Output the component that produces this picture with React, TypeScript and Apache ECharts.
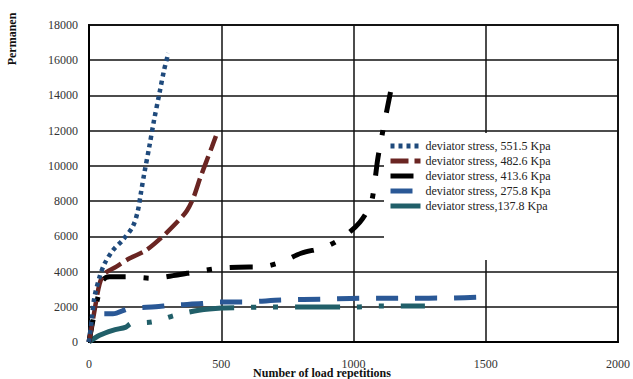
import React, { useEffect, useRef } from "react";
import * as echarts from "echarts";

const seriesNames = [
  "deviator stress, 551.5 Kpa",
  "deviator stress, 482.6 Kpa",
  "deviator stress, 413.6 Kpa",
  "deviator stress, 275.8 Kpa",
  "deviator stress,137.8 Kpa",
];

const x551 = [0, 10, 20, 40, 59, 90, 127, 165, 184, 196, 209, 228, 246, 266, 284, 300];
const y551 = [0, 1200, 2500, 3700, 4450, 5200, 5780, 6540, 7400, 8440, 9575, 11090, 12600, 14100, 15450, 16400];

const x482 = [0, 21, 40, 59, 102, 152, 215, 277, 340, 370, 395, 420, 445, 465, 480];
const y482 = [0, 1800, 3300, 3890, 4270, 4740, 5200, 5970, 6920, 7450, 8200, 9300, 10300, 11090, 11700];

const x413 = [0, 15, 34, 52, 77, 152, 240, 327, 402, 484, 566, 652, 727, 802, 892, 960, 1024, 1066, 1080, 1091, 1102, 1121, 1140];
const y413 = [0, 1230, 2560, 3500, 3700, 3700, 3620, 3790, 3980, 4170, 4250, 4270, 4540, 5040, 5390, 5950, 6800, 7880, 9070, 10320, 11280, 12760, 14200];

const x275 = [0, 9, 21, 90, 152, 252, 315, 427, 490, 578, 727, 892, 1042, 1204, 1365, 1490];
const y275 = [0, 850, 1600, 1600, 1900, 2000, 2090, 2180, 2270, 2270, 2380, 2440, 2490, 2490, 2500, 2550];

const x137 = [0, 40, 90, 140, 159, 240, 327, 415, 502, 578, 652, 829, 1005, 1084, 1174, 1270];
const y137 = [0, 380, 660, 850, 1040, 1140, 1520, 1800, 1930, 1950, 1985, 1985, 1990, 2040, 2040, 2050];

const xTicks = [0, 500, 1000, 1500, 2000];
const yTicks = [0, 2000, 4000, 6000, 8000, 10000, 12000, 14000, 16000, 18000];

const colors = ["#1F4A7C", "#6A2522", "#000000", "#2A5896", "#215F69"];
const dashes: number[][] = [
  [4, 4],
  [18, 6],
  [23, 18, 5, 18],
  [22, 17],
  [45, 17, 5, 17, 5, 17],
];
const widths = [4.5, 4.5, 5, 5, 5];

const pairs = (xs: number[], ys: number[]) => xs.map((x, i) => [x, ys[i]]);
const allData = [
  pairs(x551, y551),
  pairs(x482, y482),
  pairs(x413, y413),
  pairs(x275, y275),
  pairs(x137, y137),
];

const FONT = "'Liberation Serif', 'Times New Roman', 'DejaVu Serif', serif";

export default function App() {
  const ref = useRef<HTMLDivElement>(null);
  useEffect(() => {
    if (!ref.current) return;
    const chart = echarts.init(ref.current, null, { renderer: "svg" });
    chart.setOption({
      animation: false,
      backgroundColor: "#ffffff",
      textStyle: { fontFamily: FONT },
      grid: {
        left: 89,
        right: 13,
        top: 25,
        bottom: 37,
        show: true,
        borderColor: "#222",
        borderWidth: 2,
      },
      xAxis: {
        type: "value",
        min: 0,
        max: 2000,
        interval: 500,
        axisLine: { show: true, lineStyle: { color: "#000", width: 2 } },
        axisTick: { show: false },
        splitLine: { show: true, lineStyle: { color: "#111", width: 1.5 } },
        axisLabel: {
          fontFamily: FONT,
          fontSize: 12,
          color: "#333",
          margin: 16,
          showMaxLabel: true,
          formatter: (v: number) => (xTicks.includes(v) ? String(v) : ""),
        },
      },
      yAxis: {
        type: "value",
        min: 0,
        max: 18000,
        interval: 2000,
        axisLine: { show: true, lineStyle: { color: "#000", width: 2 } },
        axisTick: { show: false },
        splitLine: { show: true, lineStyle: { color: "#111", width: 1.5 } },
        axisLabel: {
          fontFamily: FONT,
          fontSize: 12,
          color: "#333",
          margin: 11,
          formatter: (v: number) => (yTicks.includes(v) ? String(v) : ""),
        },
      },
      legend: {
        orient: "vertical",
        left: 383,
        top: 134,
        itemWidth: 30,
        itemHeight: 6,
        itemGap: 1,
        data: seriesNames,
        itemStyle: { opacity: 0 },
        lineStyle: { width: 5 },
        textStyle: {
          fontFamily: FONT,
          fontSize: 12,
          color: "#222",
          lineHeight: 14,
        },
      },
      graphic: [
        {
          type: "rect",
          z: 1,
          shape: { x: 384, y: 133, width: 233, height: 127 },
          style: { fill: "#ffffff" },
        },
        {
          type: "text",
          x: 12,
          y: 39,
          rotation: Math.PI / 2,
          style: {
            text: "Permanen",
            fontFamily: FONT,
            fontSize: 12,
            fontWeight: "bold",
            fill: "#111",
            textAlign: "center",
            textVerticalAlign: "middle",
          },
        },
        {
          type: "text",
          x: 322,
          y: 373,
          style: {
            text: "Number of load repetitions",
            fontFamily: FONT,
            fontSize: 12,
            fontWeight: "bold",
            fill: "#111",
            textAlign: "center",
            textVerticalAlign: "middle",
          },
        },
      ],
      series: seriesNames.map((name, i) => ({
        name,
        type: "line",
        data: allData[i],
        symbol: "none",
        smooth: 0.3,
        color: colors[i],
        lineStyle: {
          color: colors[i],
          width: widths[i],
          type: dashes[i],
          cap: "butt",
        },
        z: 3 + (4 - i),
      })),
    });
    return () => chart.dispose();
  }, []);
  return (
    <div
      ref={ref}
      style={{ position: "fixed", left: 0, top: 0, width: 633, height: 379 }}
    />
  );
}
